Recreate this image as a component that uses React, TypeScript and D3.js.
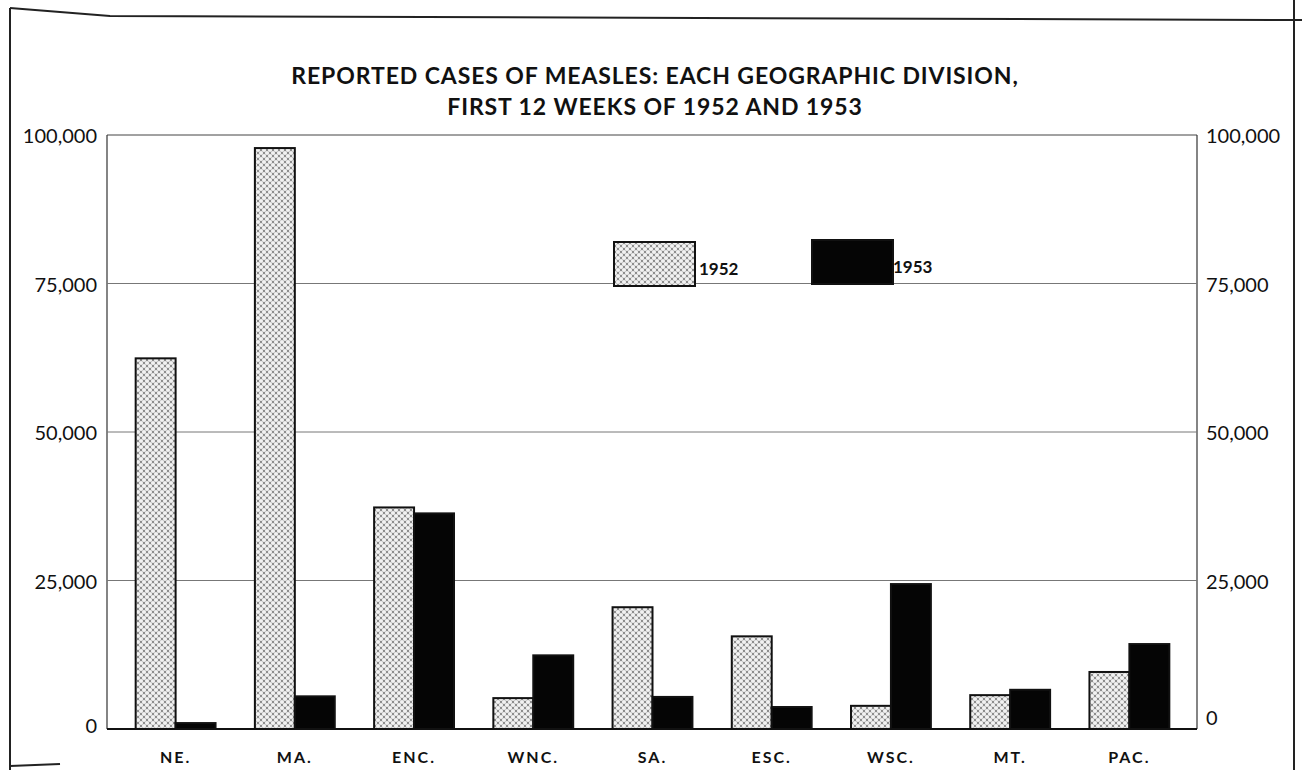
import * as d3 from 'd3';
import React from 'react';

const categories = ['NE.', 'MA.', 'ENC.', 'WNC.', 'SA.', 'ESC.', 'WSC.', 'MT.', 'PAC.'];
const cases1952 = [62400, 97800, 37300, 5200, 20500, 15600, 3900, 5700, 9600];
const cases1953 = [1000, 5500, 36300, 12400, 5400, 3700, 24400, 6600, 14300];
const yTicks = [0, 25000, 50000, 75000, 100000];
const years = ['1952', '1953'];
const titleLines = ['REPORTED CASES OF MEASLES: EACH GEOGRAPHIC DIVISION,', 'FIRST 12 WEEKS OF 1952 AND 1953'];

const W = 1302;
const H = 770;
const plot = { left: 107, right: 1197, top: 135, bottom: 729 };
const font = 'Lato, "Open Sans", sans-serif';

const App: React.FC = () => {
  const x = d3.scaleBand<string>()
    .domain(categories)
    .range([116, 1189])
    .paddingInner(0.33)
    .paddingOuter(0.165);
  const sub = d3.scaleBand<string>().domain(years).range([0, x.bandwidth()]);
  const y = d3.scaleLinear().domain([0, 100000]).range([plot.bottom, plot.top]);
  const fmt = d3.format(',');

  const series = [cases1952, cases1953];
  const fills = ['url(#dots)', '#050505'];

  return (
    <svg width={W} height={H} style={{ position: 'absolute', left: 0, top: 0, background: '#fff' }}>
      <defs>
        <pattern id="dots" width="6" height="6" patternUnits="userSpaceOnUse">
          <rect width="6" height="6" fill="#8c8c8c" />
          <circle cx="0" cy="0" r="2.1" fill="#f2f2f2" />
          <circle cx="6" cy="0" r="2.1" fill="#f2f2f2" />
          <circle cx="0" cy="6" r="2.1" fill="#f2f2f2" />
          <circle cx="6" cy="6" r="2.1" fill="#f2f2f2" />
          <circle cx="3" cy="3" r="2.1" fill="#f2f2f2" />
        </pattern>
      </defs>

      {/* page frame of the scan */}
      <path d="M10,8 Q60,12 110,16 L1302,20" fill="none" stroke="#222" strokeWidth={2} />
      <line x1={10} y1={8} x2={10} y2={770} stroke="#222" strokeWidth={2} />
      <line x1={1294} y1={0} x2={1294} y2={770} stroke="#222" strokeWidth={2} />
      <line x1={10} y1={766} x2={60} y2={764} stroke="#222" strokeWidth={2} />

      {/* title */}
      {titleLines.map((t, i) => (
        <text key={t} x={655} y={84 + i * 31} textAnchor="middle" fontFamily={font}
          fontWeight={700} fontSize={23} letterSpacing={0.9} fill="#111">{t}</text>
      ))}

      {/* plot frame and grid */}
      <line x1={plot.left} y1={plot.top} x2={plot.right} y2={plot.top} stroke="#444" strokeWidth={1} />
      <line x1={plot.left} y1={plot.top} x2={plot.left} y2={plot.bottom} stroke="#333" strokeWidth={1.2} />
      <line x1={plot.right} y1={plot.top} x2={plot.right} y2={plot.bottom} stroke="#333" strokeWidth={1.2} />
      {yTicks.filter(t => t > 0 && t < 100000).map(t => (
        <line key={t} x1={plot.left} y1={y(t)} x2={plot.right} y2={y(t)} stroke="#777" strokeWidth={1} />
      ))}

      {/* tick labels */}
      {yTicks.map(t => (
        <g key={t} fontFamily={font} fontSize={20} fill="#111">
          <text x={97} y={y(t) + 8 - (t === 0 ? 4 : 0)} textAnchor="end">{fmt(t)}</text>
          <text x={1206} y={y(t) + 8 - (t === 0 ? 12 : 0)} textAnchor="start">{fmt(t)}</text>
        </g>
      ))}

      {/* bars */}
      {categories.map((c, i) => (
        <g key={c}>
          {series.map((s, j) => (
            <rect key={years[j]}
              x={(x(c) ?? 0) + (sub(years[j]) ?? 0)}
              y={y(s[i])}
              width={sub.bandwidth()}
              height={y(0) - y(s[i])}
              fill={fills[j]}
              stroke="#111"
              strokeWidth={2} />
          ))}
          <text x={(x(c) ?? 0) + x.bandwidth() / 2} y={763} textAnchor="middle" fontFamily={font}
            fontWeight={700} fontSize={16} letterSpacing={2} fill="#111">{c}</text>
        </g>
      ))}

      {/* baseline */}
      <line x1={plot.left} y1={plot.bottom} x2={plot.right} y2={plot.bottom} stroke="#111" strokeWidth={2} />

      {/* legend */}
      <rect x={614} y={242} width={81} height={44} fill={fills[0]} stroke="#111" strokeWidth={2} />
      <text x={699} y={275} fontFamily={font} fontWeight={700} fontSize={17} fill="#111">{years[0]}</text>
      <rect x={812} y={240} width={81} height={44} fill={fills[1]} stroke="#111" strokeWidth={2} />
      <text x={893} y={273} fontFamily={font} fontWeight={700} fontSize={17} fill="#111">{years[1]}</text>
    </svg>
  );
};

export default App;
